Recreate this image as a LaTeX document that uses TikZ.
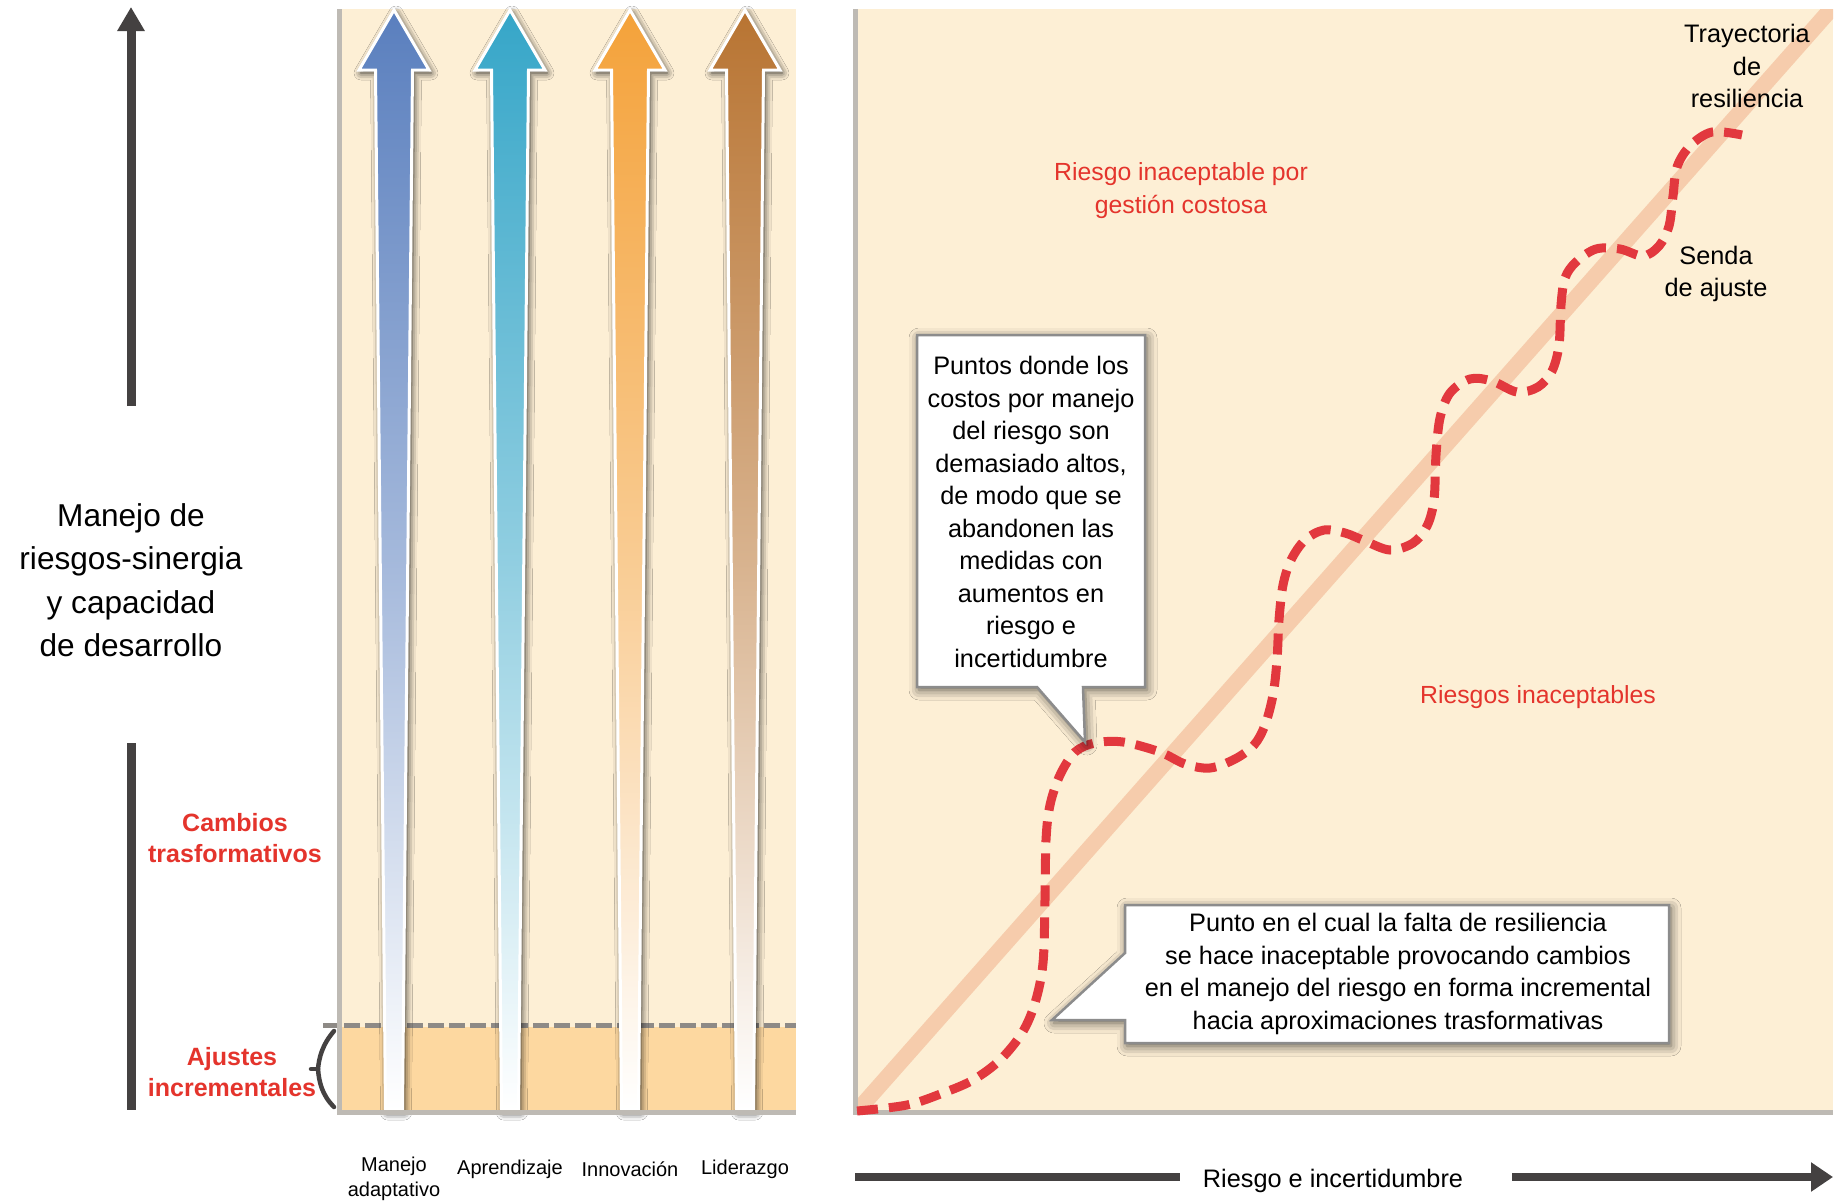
\documentclass[tikz,border=0pt]{standalone}
\usepackage{fontspec}
\setmainfont{Liberation Sans}
\usetikzlibrary{arrows.meta,shadows.blur}
\definecolor{cream}{HTML}{FDEFD5}
\definecolor{peach}{HTML}{FDD8A0}
\definecolor{bordergray}{HTML}{BEBAB4}
\definecolor{dashgray}{HTML}{8E8A86}
\definecolor{salmon}{HTML}{F6CCAC}
\definecolor{curvered}{HTML}{E2383E}
\definecolor{textred}{HTML}{E4342C}
\definecolor{axisgray}{HTML}{444141}
\definecolor{arblue}{HTML}{5A7FBE}
\definecolor{arteal}{HTML}{36A6C8}
\definecolor{arorange}{HTML}{F4A23A}
\definecolor{arbrown}{HTML}{B87432}
\definecolor{calloutgray}{HTML}{8C8C8C}
\newcommand{\gradarrow}[3]{%
  \shadedraw[arrowshade, top color=#2, bottom color=white, middle color=#2!55!white]
    (#1,10) -- ++(35,60) -- ++(-16.5,0) -- ++(-10,1040) -- ++(-17,0)
    -- ++(-10,-1040) -- ++(-16.5,0) -- cycle;
  \coordinate (#3) at (#1,1110);}
\begin{document}
\begin{tikzpicture}[x=1pt,y=-1pt,
  panelborder/.style={draw=bordergray, line width=5pt, line join=miter},
  gdash/.style={draw=dashgray, line width=5pt, dash pattern=on 16pt off 5pt},
  arrowshade/.style={draw=white, line width=3pt, line join=miter,
    blur shadow={shadow xshift=2pt, shadow yshift=-3pt, shadow blur radius=7pt, shadow opacity=85}},
  axisline/.style={draw=axisgray, line width=9pt},
  axisarrow/.style={axisline, -{Triangle[length=24pt,width=26pt]}},
  haxisline/.style={draw=axisgray, line width=8pt},
  haxisarrow/.style={haxisline, -{Triangle[length=22pt,width=28pt]}},
  bracestyle/.style={draw=axisgray, line width=4.5pt, line cap=round},
  diag/.style={draw=salmon, line width=16pt},
  reddash/.style={draw=curvered, line width=9pt, dash pattern=on 21pt off 11pt},
  callout/.style={fill=white, draw=calloutgray, line width=2.5pt, line join=miter,
    blur shadow={shadow xshift=2pt, shadow yshift=-3pt, shadow blur radius=10pt, shadow opacity=65}},
  bigtxt/.style={align=center, inner sep=0pt, font=\fontsize{31.6}{43.5}\selectfont},
  redbold/.style={align=center, inner sep=0pt, text=textred, font=\bfseries\fontsize{25}{31.5}\selectfont},
  smalltxt/.style={align=center, inner sep=0pt, font=\fontsize{20}{25}\selectfont},
  bodytxt/.style={align=center, inner sep=0pt, font=\fontsize{25.3}{32.5}\selectfont},
  redtxt/.style={align=center, inner sep=0pt, text=textred, font=\fontsize{24.8}{33}\selectfont}
]
\useasboundingbox (0,0) rectangle (1845,1200);
\fill[white] (0,0) rectangle (1845,1200);

% ---------- left axis ----------
\coordinate (lax0) at (131,406);
\coordinate (lax1) at (131,7);
\draw[axisarrow] (lax0) -- (lax1);
\coordinate (lbar0) at (131,743);
\coordinate (lbar1) at (131,1110);
\draw[axisline] (lbar0) -- (lbar1);

\node[bigtxt] (mainlabel) at (131,580) {Manejo de\\riesgos-sinergia\\y capacidad\\de desarrollo};
\node[redbold] (cambios) at (235,838) {Cambios\\trasformativos};
\node[redbold] (ajustes) at (232,1072) {Ajustes\\incrementales};

% brace
\draw[bracestyle] (334,1031) .. controls (322,1045) and (319,1058) .. (318,1069)
  .. controls (319,1082) and (322,1095) .. (334,1107);
\draw[bracestyle] (318,1069) -- (311,1069);

% ---------- left panel ----------
\fill[cream] (342,9) rectangle (796,1110);
\fill[peach] (342,1027) rectangle (796,1110);
\draw[gdash] (323,1025) -- (796,1025);

\gradarrow{394}{arblue}{a1}
\gradarrow{510}{arteal}{a2}
\gradarrow{630}{arorange}{a3}
\gradarrow{745}{arbrown}{a4}

\draw[panelborder] (339.5,9) -- (339.5,1112.5) -- (796,1112.5);

\node[smalltxt] (lab1) at (394,1179) {Manejo\\adaptativo};
\node[smalltxt] (lab2) at (510,1169) {Aprendizaje};
\node[smalltxt] (lab3) at (630,1169) {Innovación};
\node[smalltxt] (lab4) at (745,1169) {Liderazgo};

% ---------- right panel ----------
\fill[cream] (858,9) rectangle (1833,1110);
\begin{scope}
  \clip (858,9) rectangle (1833,1110);
  \coordinate (d0) at (858,1110);
  \coordinate (d1) at (1832,8);
  \draw[diag] (d0) -- (d1);
\end{scope}
\draw[panelborder] (855.5,9) -- (855.5,1112.5) -- (1833,1112.5);

\draw[reddash] plot[smooth, tension=0.55] coordinates {
  (857,1111) (907,1105) (943,1093) (973,1080) (1000,1060) (1022,1033) (1035,1003)
  (1043,963) (1045,900) (1046,840) (1050,805) (1060,775) (1075,752) (1095,743)
  (1123,742) (1160,752) (1185,764) (1210,768) (1235,759) (1254,745) (1265,725)
  (1273,695) (1277,660) (1279,620) (1283,585) (1291,560) (1305,540) (1324,530)
  (1345,533) (1365,541) (1390,550) (1413,543) (1427,526) (1434,500) (1436,455)
  (1440,418) (1450,393) (1470,379) (1492,381) (1517,392) (1538,387) (1552,371)
  (1559,345) (1561,305) (1565,278) (1576,262) (1596,249) (1620,249) (1643,256)
  (1659,246) (1669,226) (1673,196) (1677,167) (1690,146) (1712,132) (1742,135)};

% callouts
\draw[callout] (917,335) -- (1145,335) -- (1145,687) -- (1083,687) -- (1085,742)
  -- (1037,687) -- (917,687) -- cycle;
\node[bodytxt] (call1) at (1031,512) {Puntos donde los\\costos por manejo\\del riesgo son\\demasiado altos,\\de modo que se\\abandonen las\\medidas con\\aumentos en\\riesgo e\\incertidumbre};

\draw[callout] (1125,905) -- (1669,905) -- (1669,1043) -- (1125,1043) -- (1125,1020)
  -- (1052,1020) -- (1125,953) -- cycle;
\node[bodytxt] (call2) at (1398,974) {Punto en el cual la falta de resiliencia\\se hace inaceptable provocando cambios\\en el manejo del riesgo en forma incremental\\hacia aproximaciones trasformativas};

\node[redtxt] (costosa) at (1181,191) {Riesgo inaceptable por\\gestión costosa};
\node[redtxt] (inacept) at (1538,697) {Riesgos inaceptables};
\node[bodytxt] (trayect) at (1747,66) {Trayectoria\\de\\resiliencia};
\node[bodytxt] (senda) at (1716,274) {Senda\\de ajuste};

% bottom axis
\node[bodytxt] (xlabel) at (1333,1181) {Riesgo e incertidumbre};
\coordinate (bx0) at (855,1177);
\coordinate (bx1) at (1180,1177);
\coordinate (bx2) at (1512,1177);
\coordinate (bx3) at (1833,1177);
\draw[haxisline] (bx0) -- (bx1);
\draw[haxisarrow] (bx2) -- (bx3);
\end{tikzpicture}
\end{document}
